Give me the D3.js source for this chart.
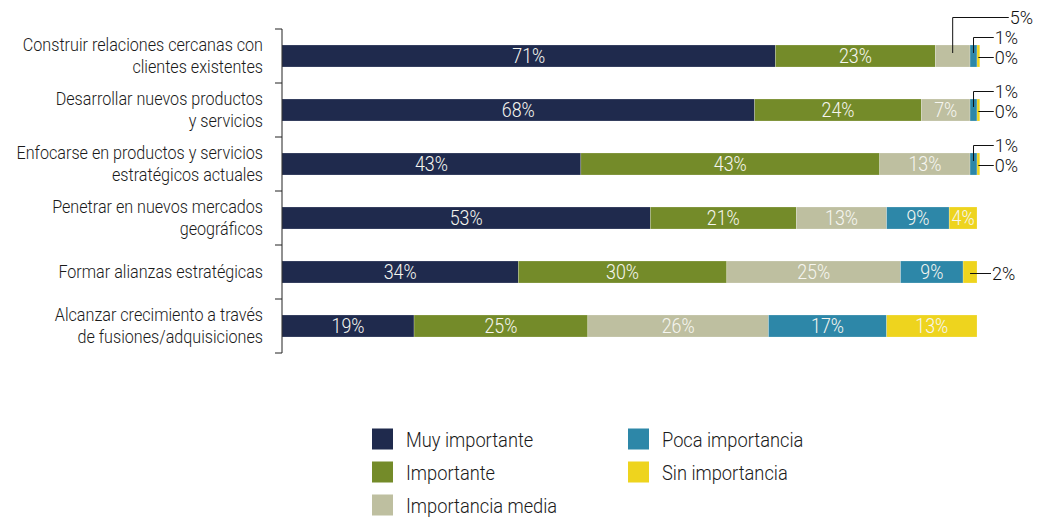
<!DOCTYPE html>
<html>
<head>
<meta charset="utf-8">
<script src="https://cdn.jsdelivr.net/npm/d3@7"></script>
<style>
  html, body { margin: 0; padding: 0; background: #ffffff; }
  svg { display: block; }
  text { font-family: "Roboto", "Liberation Sans", sans-serif; font-weight: 300; }
</style>
</head>
<body>
<svg id="chart" width="1051" height="519"></svg>
<script>
// Categories (each entry split into its display lines)
const categories = [
  ["Construir relaciones cercanas con", "clientes existentes"],
  ["Desarrollar nuevos productos", "y servicios"],
  ["Enfocarse en productos y servicios", "estratégicos actuales"],
  ["Penetrar en nuevos mercados", "geográficos"],
  ["Formar alianzas estratégicas"],
  ["Alcanzar crecimiento a través", "de fusiones/adquisiciones"]
];

const seriesNames = ["Muy importante", "Importante", "Importancia media", "Poca importancia", "Sin importancia"];

// Percentages per category (same order as categories)
const muyImportante    = [71, 68, 43, 53, 34, 19];
const importante       = [23, 24, 43, 21, 30, 25];
const importanciaMedia = [5, 7, 13, 13, 25, 26];
const pocaImportancia  = [1, 1, 1, 9, 9, 17];
const sinImportancia   = [0.4, 0.4, 0.4, 4, 2, 13];

const colors = ["#1f2a4d", "#748b29", "#bebfa0", "#2d87a8", "#eed41e"];

// Labels drawn outside the bar with a leader line: key "row-series" -> level above the bar
const calloutLevels = { "0-2": 2, "0-3": 1, "0-4": 0, "1-3": 1, "1-4": 0, "2-3": 1, "2-4": 0, "4-4": 0 };

const seriesValues = [muyImportante, importante, importanciaMedia, pocaImportancia, sinImportancia];
const rows = categories.map((c, i) => {
  const r = { key: i };
  seriesNames.forEach((s, j) => { r[s] = seriesValues[j][i]; });
  return r;
});

const svg = d3.select("#chart");

// Condensed lettering: glyphs are narrowed horizontally around the anchor point
function placeText(sel, xf, yf, squeeze) {
  sel.attr("transform", (d, i) => `translate(${xf(d, i)},${yf(d, i)}) scale(${squeeze},1)`);
}

const x = d3.scaleLinear().domain([0, 100]).range([282, 977]);
const y = d3.scaleBand().domain(d3.range(categories.length)).range([29, 353]).padding(0);
const barH = 22;
const barY = i => y(i) + (y.bandwidth() - barH) / 2;
const color = d3.scaleOrdinal().domain(seriesNames).range(colors);

const stacked = d3.stack().keys(seriesNames)(rows);
const fmt = v => Math.round(v) + "%";
const total = r => seriesNames.reduce((s, k) => s + r[k], 0);

// Bars
const layers = svg.append("g").selectAll("g")
  .data(stacked).join("g")
  .attr("fill", d => color(d.key));

layers.selectAll("rect")
  .data(d => d.map(p => ({ p, key: d.key })))
  .join("rect")
  .attr("x", d => x(d.p[0]))
  .attr("y", d => barY(d.p.data.key))
  .attr("width", d => x(d.p[1]) - x(d.p[0]))
  .attr("height", barH)
  .attr("stroke", "rgba(255,255,255,0.35)")
  .attr("stroke-width", 0.6);

// Split segment values into in-bar labels and leader-line callouts
const inside = [];
const outside = [];
stacked.forEach((layer, si) => {
  layer.forEach((p, ri) => {
    const item = { p, si, ri, v: p[1] - p[0] };
    const lvl = calloutLevels[ri + "-" + si];
    if (lvl !== undefined) { item.level = lvl; outside.push(item); }
    else inside.push(item);
  });
});

svg.append("g").selectAll("text")
  .data(inside).join("text")
  .attr("dy", "0.36em")
  .attr("text-anchor", "middle")
  .attr("fill", "#f6f6f0")
  .attr("font-size", 20.5)
  .text(d => fmt(d.v))
  .call(placeText, d => x((d.p[0] + d.p[1]) / 2), d => y(d.ri) + y.bandwidth() / 2, 0.87);

// Leader lines and values outside the bars
const levelStep = 20;
const co = svg.append("g");
outside.forEach(d => {
  const cx = x((d.p[0] + d.p[1]) / 2);
  const cy = y(d.ri) + y.bandwidth() / 2;
  const barEnd = x(total(d.p.data));
  const ly = cy + 1.5 - d.level * levelStep;
  const tx = barEnd + 15 + (d.level === 2 ? 15 : 0);
  const path = d.level === 0
    ? `M${cx},${ly}H${tx - 1}`
    : `M${cx},${cy - 3}V${ly}H${tx - 1}`;
  co.append("path").attr("d", path).attr("fill", "none").attr("stroke", "#111").attr("stroke-width", 1);
  co.append("text")
    .datum(d)
    .attr("dy", "0.36em")
    .attr("fill", "#111")
    .attr("font-size", 18)
    .text(fmt(d.v))
    .call(placeText, () => tx, () => ly, 1);
});

// Category axis
const axis = svg.append("g");
axis.append("line")
  .attr("x1", x(0)).attr("x2", x(0))
  .attr("y1", y.range()[0]).attr("y2", y.range()[1])
  .attr("stroke", "#222").attr("stroke-width", 1);
const tickYs = d3.range(categories.length).map(i => y(i)).concat([y.range()[1]]);
axis.selectAll("line.tick")
  .data(tickYs).join("line")
  .attr("class", "tick")
  .attr("x1", x(0) - 7).attr("x2", x(0))
  .attr("y1", d => d).attr("y2", d => d)
  .attr("stroke", "#222").attr("stroke-width", 1);

const lineH = 21.5;
axis.selectAll("text.cat")
  .data(categories).join("text")
  .attr("class", "cat")
  .attr("text-anchor", "end")
  .attr("fill", "#1a1a1a")
  .attr("font-size", 19)
  .each(function (lines) {
    const t = d3.select(this);
    lines.forEach((ln, k) => {
      t.append("tspan")
        .attr("x", 0)
        .attr("y", (k - (lines.length - 1) / 2) * lineH)
        .attr("dy", "0.36em")
        .text(ln);
    });
  })
  .call(placeText, () => 263, (d, i) => y(i) + y.bandwidth() / 2 - 1, 0.85);

// Legend
const legendPos = [[372, 439], [372, 472], [372, 505], [628, 439], [628, 472]];
const legend = svg.append("g").selectAll("g")
  .data(seriesNames).join("g")
  .attr("transform", (d, i) => `translate(${legendPos[i][0]},${legendPos[i][1]})`);
legend.append("rect")
  .attr("x", 0).attr("y", -10.5)
  .attr("width", 21).attr("height", 21)
  .attr("fill", d => color(d));
legend.append("text")
  .attr("dy", "0.36em")
  .attr("fill", "#1a1a1a")
  .attr("font-size", 21)
  .text(d => d)
  .call(placeText, () => 34, () => 0, 0.87);
</script>
</body>
</html>
